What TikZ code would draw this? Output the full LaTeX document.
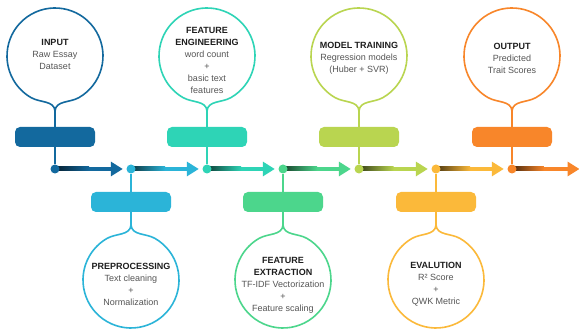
\documentclass[tikz,border=0pt]{standalone}
\usepackage{fontspec}
\setmainfont{Liberation Sans}
\usepackage{xcolor}
\usetikzlibrary{arrows.meta,positioning,calc,backgrounds}
\definecolor{ink}{HTML}{1E1E1E}
\definecolor{inkgray}{HTML}{555555}
\definecolor{stinput}{HTML}{13699E}
\definecolor{stprep}{HTML}{2BB4D8}
\definecolor{stfeng}{HTML}{2ED4B6}
\definecolor{stfext}{HTML}{4CD68C}
\definecolor{sttrain}{HTML}{B9D550}
\definecolor{steval}{HTML}{FBB93A}
\definecolor{stout}{HTML}{F8862A}
\tikzset{
  stagebox/.style={rounded corners=5pt,minimum width=80pt,minimum height=20pt,
                   inner sep=0pt},
  stagedot/.style={circle,inner sep=0pt,minimum size=9pt},
  bubble/.style={fill=white,line width=1.6pt},
  bubbletext/.style={align=center,inner sep=0pt,text=inkgray,
                     font=\fontsize{9}{12}\selectfont},
  stemline/.style={line width=1.5pt},
  flowarr/.style={-{Triangle[length=12pt,width=14pt]},line width=4pt,shorten >=3.5pt}
}

\begin{document}
\begin{tikzpicture}[x=1pt,y=1pt]
  \useasboundingbox (0,0) rectangle (579,331);
  % bubbles, top row
  \coordinate (t1) at (55,220);
  \coordinate (t3) at (207,220);
  \coordinate (t5) at (359,220);
  \coordinate (t7) at (512,220);
  \draw[bubble,draw=stinput] ($(55,275)+(-60:48)$) arc[start angle=-60,end angle=240,radius=48]
    to[out=-30,in=95] (t1) to[out=85,in=210] cycle;
  \draw[bubble,draw=stfeng] ($(207,275)+(-60:48)$) arc[start angle=-60,end angle=240,radius=48]
    to[out=-30,in=95] (t3) to[out=85,in=210] cycle;
  \draw[bubble,draw=sttrain] ($(359,275)+(-60:48)$) arc[start angle=-60,end angle=240,radius=48]
    to[out=-30,in=95] (t5) to[out=85,in=210] cycle;
  \draw[bubble,draw=stout] ($(512,275)+(-60:48)$) arc[start angle=-60,end angle=240,radius=48]
    to[out=-30,in=95] (t7) to[out=85,in=210] cycle;
  % bubbles, bottom row
  \coordinate (t2) at (131,106);
  \coordinate (t4) at (283,106);
  \coordinate (t6) at (436,106);
  \draw[bubble,draw=stprep] ($(131,51)+(60:48)$) arc[start angle=60,end angle=-240,radius=48]
    to[out=30,in=-95] (t2) to[out=-85,in=150] cycle;
  \draw[bubble,draw=stfext] ($(283,51)+(60:48)$) arc[start angle=60,end angle=-240,radius=48]
    to[out=30,in=-95] (t4) to[out=-85,in=150] cycle;
  \draw[bubble,draw=steval] ($(436,51)+(60:48)$) arc[start angle=60,end angle=-240,radius=48]
    to[out=30,in=-95] (t6) to[out=-85,in=150] cycle;
  % texts
  \node[bubbletext] (input) at (55,277)
    {{\color{ink}\bfseries INPUT}\\Raw Essay\\Dataset};
  \node[bubbletext] (prep) at (131,47)
    {{\color{ink}\bfseries PREPROCESSING}\\Text cleaning\\+\\Normalization};
  \node[bubbletext] (feng) at (207,270.5)
    {{\color{ink}\bfseries FEATURE}\\{\color{ink}\bfseries ENGINEERING}\\word count\\+\\basic text\\features};
  \node[bubbletext] (fext) at (283,46)
    {{\color{ink}\bfseries FEATURE}\\{\color{ink}\bfseries EXTRACTION}\\TF-IDF Vectorization\\+\\Feature scaling};
  \node[bubbletext] (train) at (359,273)
    {{\color{ink}\bfseries MODEL TRAINING}\\Regression models\\(Huber + SVR)};
  \node[bubbletext] (eval) at (436,46.5)
    {{\color{ink}\bfseries EVALUTION}\\R² Score\\+\\QWK Metric};
  \node[bubbletext] (output) at (512,273)
    {{\color{ink}\bfseries OUTPUT}\\Predicted\\Trait Scores};
  % boxes
  \node[stagebox,fill=stinput] (inbox) at (55,194) {};
  \node[stagebox,fill=stprep] (prepbox) at (131,129) {};
  \node[stagebox,fill=stfeng] (fengbox) at (207,194) {};
  \node[stagebox,fill=stfext] (fextbox) at (283,129) {};
  \node[stagebox,fill=sttrain] (trainbox) at (359,194) {};
  \node[stagebox,fill=steval] (evalbox) at (436,129) {};
  \node[stagebox,fill=stout] (outbox) at (512,194) {};
  % dots on the line
  \node[stagedot,fill=stinput] (d1) at (55,162) {};
  \node[stagedot,fill=stprep] (d2) at (131,162) {};
  \node[stagedot,fill=stfeng] (d3) at (207,162) {};
  \node[stagedot,fill=stfext] (d4) at (283,162) {};
  \node[stagedot,fill=sttrain] (d5) at (359,162) {};
  \node[stagedot,fill=steval] (d6) at (436,162) {};
  \node[stagedot,fill=stout] (d7) at (512,162) {};
  \coordinate (flowend) at (583,162);
  \begin{scope}[on background layer]
    \fill[white] (0,0) rectangle (579,331);
    \draw[stemline,stinput] (t1) -- (inbox) -- (d1);
    \draw[stemline,stprep] (t2) -- (prepbox) -- (d2);
    \draw[stemline,stfeng] (t3) -- (fengbox) -- (d3);
    \draw[stemline,stfext] (t4) -- (fextbox) -- (d4);
    \draw[stemline,sttrain] (t5) -- (trainbox) -- (d5);
    \draw[stemline,steval] (t6) -- (evalbox) -- (d6);
    \draw[stemline,stout] (t7) -- (outbox) -- (d7);
    \draw[flowarr,stinput] (d1) -- (d2);
    \draw[flowarr,stprep] (d2) -- (d3);
    \draw[flowarr,stfeng] (d3) -- (d4);
    \draw[flowarr,stfext] (d4) -- (d5);
    \draw[flowarr,sttrain] (d5) -- (d6);
    \draw[flowarr,steval] (d6) -- (d7);
    \draw[flowarr,stout] (d7) -- (flowend);
    % dark start of each arrow
    \shade[left color=stinput!30!black,right color=stinput]
      ($(d1)+(0,-2)$) rectangle ($(d1)!0.45!(d2)+(0,2)$);
    \shade[left color=stprep!30!black,right color=stprep]
      ($(d2)+(0,-2)$) rectangle ($(d2)!0.45!(d3)+(0,2)$);
    \shade[left color=stfeng!30!black,right color=stfeng]
      ($(d3)+(0,-2)$) rectangle ($(d3)!0.45!(d4)+(0,2)$);
    \shade[left color=stfext!30!black,right color=stfext]
      ($(d4)+(0,-2)$) rectangle ($(d4)!0.45!(d5)+(0,2)$);
    \shade[left color=sttrain!30!black,right color=sttrain]
      ($(d5)+(0,-2)$) rectangle ($(d5)!0.45!(d6)+(0,2)$);
    \shade[left color=steval!30!black,right color=steval]
      ($(d6)+(0,-2)$) rectangle ($(d6)!0.45!(d7)+(0,2)$);
    \shade[left color=stout!30!black,right color=stout]
      ($(d7)+(0,-2)$) rectangle ($(d7)!0.45!(flowend)+(0,2)$);
  \end{scope}
\end{tikzpicture}
\end{document}
